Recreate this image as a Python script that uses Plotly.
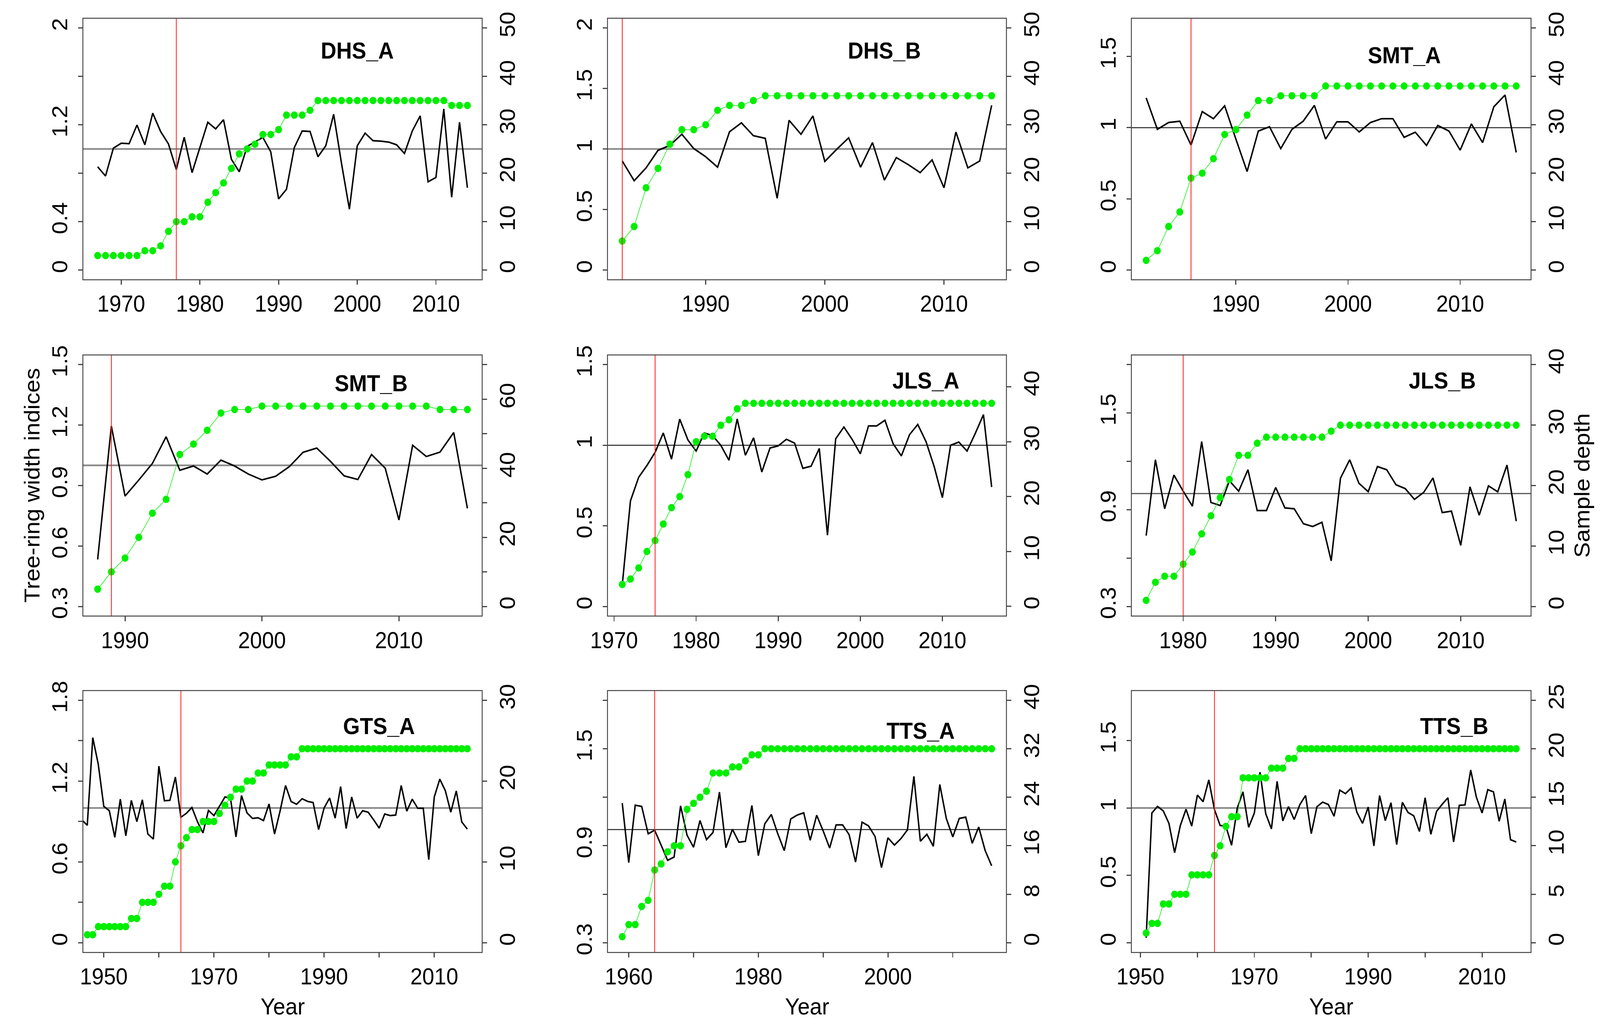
import plotly.graph_objects as go

W, H = 4384, 2625

# ---------------- data ----------------
site_names = ["DHS_A", "DHS_B", "SMT_A", "SMT_B", "JLS_A", "JLS_B", "GTS_A", "TTS_A", "TTS_B"]

# first year of the ring-width index series and of the sample-depth series
rwi_start = [1967, 1983, 1982, 1988, 1971, 1976, 1946, 1959, 1951]
depth_start = [1967, 1983, 1982, 1988, 1971, 1976, 1947, 1959, 1951]

# year marked with the red vertical line
red_line_year = [1977, 1983, 1986, 1989, 1975, 1980, 1964, 1964, 1963]

DHS_A_rwi = [0.853, 0.777, 1.007, 1.048, 1.044, 1.198, 1.035, 1.296, 1.145, 1.042,
             0.830, 1.097, 0.805, 1.012, 1.221, 1.166, 1.242, 0.915, 0.812, 1.021,
             1.057, 1.096, 0.977, 0.588, 0.667, 1.012, 1.149, 1.145, 0.936, 1.027,
             1.287, 0.880, 0.503, 1.027, 1.131, 1.069, 1.065, 1.057, 1.035, 0.963,
             1.149, 1.274, 0.729, 0.765, 1.331, 0.602, 1.221, 0.680]
DHS_A_depth = [3, 3, 3, 3, 3, 3, 4, 4, 5, 8, 10, 10, 11, 11, 14, 16, 18, 21, 24, 25,
               26, 28, 28, 29, 32, 32, 32, 33, 35, 35, 35, 35, 35, 35, 35, 35, 35, 35,
               35, 35, 35, 35, 35, 35, 35, 34, 34, 34]

DHS_B_rwi = [0.901, 0.738, 0.844, 0.989, 1.030, 1.122, 1.004, 0.936, 0.850, 1.142,
             1.216, 1.110, 1.088, 0.593, 1.237, 1.122, 1.273, 0.897, 0.998, 1.092,
             0.850, 1.053, 0.743, 0.929, 0.871, 0.805, 0.910, 0.680, 1.140, 0.844,
             0.901, 1.361]
DHS_B_depth = [6, 9, 17, 21, 26, 29, 29, 30, 33, 34, 34, 35, 36, 36, 36, 36, 36, 36,
               36, 36, 36, 36, 36, 36, 36, 36, 36, 36, 36, 36, 36, 36]

SMT_A_rwi = [1.209, 0.988, 1.036, 1.045, 0.878, 1.113, 1.063, 1.153, 0.920, 0.692,
             0.976, 1.006, 0.853, 0.988, 1.045, 1.156, 0.920, 1.041, 1.041, 0.970,
             1.036, 1.063, 1.063, 0.932, 0.968, 0.875, 1.015, 0.976, 0.842, 1.026,
             0.895, 1.146, 1.229, 0.826]
SMT_A_depth = [2, 4, 9, 12, 19, 20, 23, 28, 29, 32, 35, 35, 36, 36, 36, 36, 38, 38,
               38, 38, 38, 38, 38, 38, 38, 38, 38, 38, 38, 38, 38, 38, 38, 38]

SMT_B_rwi = [0.533, 1.195, 0.848, 0.927, 1.010, 1.142, 0.976, 0.997, 0.957, 1.026,
             0.997, 0.957, 0.928, 0.946, 0.994, 1.065, 1.086, 1.020, 0.948, 0.930,
             1.054, 0.986, 0.729, 1.100, 1.044, 1.066, 1.163, 0.787]
SMT_B_depth = [5, 10, 14, 20, 27, 31, 44, 47, 51, 56, 57, 57, 58, 58, 58, 58, 58, 58,
               58, 58, 58, 58, 58, 58, 58, 57, 57, 57]

JLS_A_rwi = [0.133, 0.655, 0.801, 0.874, 0.956, 1.076, 0.914, 1.162, 1.033, 0.964,
             1.076, 1.060, 1.000, 0.907, 1.163, 0.938, 1.046, 0.834, 0.983, 0.996,
             1.037, 1.013, 0.857, 0.870, 0.980, 0.442, 1.040, 1.113, 1.037, 0.947,
             1.120, 1.120, 1.155, 1.009, 0.934, 1.066, 1.129, 1.023, 0.867, 0.675,
             1.000, 1.020, 0.964, 1.073, 1.190, 0.741]
JLS_A_depth = [4, 5, 7, 10, 12, 15, 18, 20, 24, 30, 31, 31, 33, 34, 36, 37, 37, 37,
               37, 37, 37, 37, 37, 37, 37, 37, 37, 37, 37, 37, 37, 37, 37, 37, 37, 37,
               37, 37, 37, 37, 37, 37, 37, 37, 37, 37]

JLS_B_rwi = [0.739, 1.210, 0.906, 1.115, 1.015, 0.922, 1.323, 0.945, 0.926, 1.079,
             1.015, 1.148, 0.895, 0.895, 1.038, 0.911, 0.906, 0.813, 0.796, 0.822,
             0.583, 1.095, 1.210, 1.064, 1.012, 1.168, 1.148, 1.055, 1.031, 0.964,
             1.008, 1.097, 0.882, 0.891, 0.679, 1.042, 0.866, 1.048, 1.011, 1.177,
             0.829]
JLS_B_depth = [1, 4, 5, 5, 7, 9, 12, 15, 18, 21, 25, 25, 27, 28, 28, 28, 28, 28, 28,
               28, 29, 30, 30, 30, 30, 30, 30, 30, 30, 30, 30, 30, 30, 30, 30, 30, 30,
               30, 30, 30, 30]

GTS_A_rwi = [0.912, 0.872, 1.522, 1.324, 1.012, 0.980, 0.783, 1.066, 0.794, 1.057,
             0.899, 1.061, 0.807, 0.770, 1.311, 1.054, 1.057, 1.230, 0.932, 0.961,
             1.004, 0.899, 0.815, 0.982, 0.944, 1.012, 1.082, 1.074, 0.786, 1.093,
             0.964, 0.923, 0.928, 0.907, 1.030, 0.807, 0.977, 1.167, 1.049, 1.028,
             1.069, 1.049, 1.041, 0.840, 1.001, 1.074, 0.925, 1.159, 0.848, 1.082,
             0.925, 0.980, 0.969, 0.912, 0.851, 0.956, 0.944, 0.948, 1.167, 0.977,
             1.066, 0.998, 0.998, 0.617, 1.082, 1.214, 1.130, 0.969, 1.127, 0.896,
             0.844]
GTS_A_depth = [1, 1, 2, 2, 2, 2, 2, 2, 3, 3, 5, 5, 5, 6, 7, 7, 10, 12, 13, 14, 14,
               15, 15, 15, 16, 17, 18, 19, 19, 20, 20, 21, 21, 22, 22, 22, 22, 23, 23,
               24, 24, 24, 24, 24, 24, 24, 24, 24, 24, 24, 24, 24, 24, 24, 24, 24, 24,
               24, 24, 24, 24, 24, 24, 24, 24, 24, 24, 24, 24, 24]

TTS_A_rwi = [1.164, 0.796, 1.151, 1.143, 0.974, 0.996, 0.904, 0.810, 0.830, 1.147,
             0.965, 0.891, 1.056, 0.938, 0.982, 1.232, 0.888, 1.002, 0.922, 0.927,
             1.149, 0.839, 1.036, 1.093, 0.974, 0.870, 1.066, 1.090, 1.104, 0.934,
             1.089, 0.992, 0.886, 1.029, 1.029, 0.969, 0.799, 1.046, 1.023, 0.958,
             0.765, 0.949, 0.904, 0.944, 0.998, 1.329, 0.928, 0.971, 0.897, 1.279,
             1.069, 0.955, 1.069, 1.077, 0.915, 1.016, 0.870, 0.776]
TTS_A_depth = [1, 3, 3, 6, 7, 12, 13, 15, 16, 16, 22, 23, 24, 25, 28, 28, 28, 29, 29,
               30, 31, 31, 32, 32, 32, 32, 32, 32, 32, 32, 32, 32, 32, 32, 32, 32, 32,
               32, 32, 32, 32, 32, 32, 32, 32, 32, 32, 32, 32, 32, 32, 32, 32, 32, 32,
               32, 32, 32]

TTS_B_rwi = [0.037, 0.963, 1.012, 0.979, 0.886, 0.668, 0.870, 0.991, 0.866, 1.096,
             1.047, 1.209, 0.988, 0.870, 0.866, 0.724, 0.999, 1.120, 0.857, 0.963,
             1.266, 0.958, 0.845, 1.198, 0.905, 1.010, 0.915, 1.026, 1.093, 0.810,
             1.010, 1.044, 1.026, 0.939, 1.133, 1.107, 1.148, 0.970, 0.886, 1.007,
             0.719, 1.093, 0.907, 1.039, 0.729, 1.042, 0.967, 0.942, 0.826, 1.076,
             0.805, 0.975, 1.028, 1.076, 0.748, 1.020, 1.023, 1.282, 1.080, 0.963,
             1.136, 1.120, 0.902, 1.067, 0.765, 0.748]
TTS_B_depth = [1, 2, 2, 4, 4, 5, 5, 5, 7, 7, 7, 7, 9, 10, 12, 13, 13, 17, 17, 17, 17,
               17, 18, 18, 18, 19, 19, 20, 20, 20, 20, 20, 20, 20, 20, 20, 20, 20, 20,
               20, 20, 20, 20, 20, 20, 20, 20, 20, 20, 20, 20, 20, 20, 20, 20, 20, 20,
               20, 20, 20, 20, 20, 20, 20, 20, 20]

rwi_series = [DHS_A_rwi, DHS_B_rwi, SMT_A_rwi, SMT_B_rwi, JLS_A_rwi, JLS_B_rwi,
              GTS_A_rwi, TTS_A_rwi, TTS_B_rwi]
depth_series = [DHS_A_depth, DHS_B_depth, SMT_A_depth, SMT_B_depth, JLS_A_depth,
                JLS_B_depth, GTS_A_depth, TTS_A_depth, TTS_B_depth]

# ---------------- axis settings ----------------
x_ranges = [(1965.12, 2015.88), (1981.76, 2015.24), (1980.68, 2016.32),
            (1986.92, 2016.08), (1969.2, 2017.8), (1974.4, 2017.6),
            (1946.2, 2018.7), (1956.72, 2018.28), (1948.4, 2018.6)]
x_ticks = [[1970, 1980, 1990, 2000, 2010], [1990, 2000, 2010], [1990, 2000, 2010],
           [1990, 2000, 2010], [1970, 1980, 1990, 2000, 2010], [1980, 1990, 2000, 2010],
           [1950, 1960, 1970, 1980, 1990, 2000, 2010], [1960, 1970, 1980, 1990, 2000, 2010],
           [1950, 1960, 1970, 1980, 1990, 2000, 2010]]
x_ticklabels = [["1970", "1980", "1990", "2000", "2010"], ["1990", "2000", "2010"],
                ["1990", "2000", "2010"], ["1990", "2000", "2010"],
                ["1970", "1980", "1990", "2000", "2010"], ["1980", "1990", "2000", "2010"],
                ["1950", "", "1970", "", "1990", "", "2010"],
                ["1960", "", "1980", "", "2000", ""],
                ["1950", "", "1970", "", "1990", "", "2010"]]

yl_ranges = [(-0.08, 2.08), (-0.08, 2.08), (-0.068, 1.768), (0.252, 1.548),
             (-0.06, 1.56), (0.24, 1.86), (-0.072, 1.872), (0.24, 1.86), (-0.072, 1.872)]
yl_ticks = [[0, 0.4, 0.8, 1.2, 1.6, 2], [0, 0.5, 1, 1.5, 2], [0, 0.5, 1, 1.5],
            [0.3, 0.6, 0.9, 1.2, 1.5], [0, 0.5, 1, 1.5], [0.3, 0.6, 0.9, 1.2, 1.5, 1.8],
            [0, 0.3, 0.6, 0.9, 1.2, 1.5, 1.8], [0.3, 0.6, 0.9, 1.2, 1.5, 1.8],
            [0, 0.5, 1, 1.5]]
yl_ticklabels = [["0", "0.4", "", "1.2", "", "2"], ["0", "0.5", "1", "1.5", "2"],
                 ["0", "0.5", "1", "1.5"], ["0.3", "0.6", "0.9", "1.2", "1.5"],
                 ["0", "0.5", "1", "1.5"], ["0.3", "", "0.9", "", "1.5", ""],
                 ["0", "", "0.6", "", "1.2", "", "1.8"], ["0.3", "", "0.9", "", "1.5", ""],
                 ["0", "0.5", "1", "1.5"]]

yr_ranges = [(-2, 52), (-2, 52), (-2, 52), (-2.8, 72.8), (-1.77, 45.8), (-1.6, 41.6),
             (-1.2, 31.2), (-1.6, 41.6), (-1, 26)]
yr_ticks = [[0, 10, 20, 30, 40, 50], [0, 10, 20, 30, 40, 50], [0, 10, 20, 30, 40, 50],
            [0, 10, 20, 30, 40, 50, 60, 70], [0, 10, 20, 30, 40], [0, 10, 20, 30, 40],
            [0, 10, 20, 30], [0, 8, 16, 24, 32, 40], [0, 5, 10, 15, 20, 25]]
yr_ticklabels = [["0", "10", "20", "30", "40", "50"], ["0", "10", "20", "30", "40", "50"],
                 ["0", "10", "20", "30", "40", "50"],
                 ["0", "", "20", "", "40", "", "60", ""], ["0", "10", "20", "30", "40"],
                 ["0", "10", "20", "30", "40"], ["0", "10", "20", "30"],
                 ["0", "8", "16", "24", "32", "40"], ["0", "5", "10", "15", "20", "25"]]

# ---------------- layout geometry (pixels) and styles ----------------
col_px = [(182, 1288), (1635, 2740), (3086, 4193)]
row_px = [(22, 700), (895, 1572), (1765, 2444)]
# panel title position inside each plot box (fraction of width, fraction from top)
title_pos = [(0.687, 0.125), (0.694, 0.125), (0.683, 0.142), (0.722, 0.109),
             (0.798, 0.098), (0.778, 0.098), (0.742, 0.137), (0.785, 0.155),
             (0.808, 0.137)]
ref_line_color = ["#8c8c8c", "#8c8c8c", "#222222", "#8c8c8c", "#222222", "#555555",
                  "#8c8c8c", "#222222", "#8c8c8c"]
ref_line_width = [4.5, 4.5, 2.5, 4.5, 2.5, 3, 4.5, 2.5, 4.5]

FONT = "Liberation Sans, Arial, sans-serif"
TICK_SIZE = 59
GREEN = "#00ee00"
AXCOL = "#444444"

fig = go.Figure()
layout = dict(width=W, height=H, margin=dict(l=0, r=0, t=0, b=0),
              paper_bgcolor="white", plot_bgcolor="white", showlegend=False,
              font=dict(family=FONT, color="black"))
shapes = []
annotations = []

for i in range(9):
    r, c = divmod(i, 3)
    xn = i + 1
    yl = 2 * i + 1
    yr = 2 * i + 2
    xref = "x" if xn == 1 else f"x{xn}"
    ylref = "y" if yl == 1 else f"y{yl}"
    yrref = f"y{yr}"
    xkey = "xaxis" if xn == 1 else f"xaxis{xn}"
    ylkey = "yaxis" if yl == 1 else f"yaxis{yl}"
    yrkey = f"yaxis{yr}"

    x0, x1 = col_px[c]
    y0, y1 = row_px[r]
    xdom = [x0 / W, x1 / W]
    ydom = [1 - y1 / H, 1 - y0 / H]

    common = dict(showgrid=False, zeroline=False, showline=False, ticks="outside",
                  ticklen=12, tickwidth=3, tickcolor=AXCOL,
                  tickfont=dict(family=FONT, size=TICK_SIZE, color="black"),
                  tickmode="array")
    layout[xkey] = dict(domain=xdom, range=list(x_ranges[i]), anchor=ylref,
                        tickvals=x_ticks[i], ticktext=x_ticklabels[i],
                        ticklabelstandoff=-2, **common)
    layout[ylkey] = dict(domain=ydom, range=list(yl_ranges[i]), anchor=xref,
                         side="left", tickangle=-90, tickvals=yl_ticks[i],
                         ticktext=yl_ticklabels[i], ticklabelstandoff=6, **common)
    layout[yrkey] = dict(domain=ydom, range=list(yr_ranges[i]), anchor=xref,
                         overlaying=ylref, side="right", tickangle=-90,
                         tickvals=yr_ticks[i], ticktext=yr_ticklabels[i],
                         ticklabelstandoff=6, **common)

    years_rwi = list(range(rwi_start[i], rwi_start[i] + len(rwi_series[i])))
    years_dep = list(range(depth_start[i], depth_start[i] + len(depth_series[i])))

    fig.add_trace(go.Scatter(x=years_rwi, y=rwi_series[i], xaxis=xref, yaxis=ylref,
                             mode="lines", line=dict(color="black", width=4),
                             hoverinfo="skip"))
    fig.add_trace(go.Scatter(x=years_dep, y=depth_series[i], xaxis=xref, yaxis=yrref,
                             mode="lines+markers",
                             line=dict(color=GREEN, width=1.5),
                             marker=dict(size=19, color=GREEN, line=dict(width=0)),
                             hoverinfo="skip"))

    # reference line at index = 1
    shapes.append(dict(type="line", xref=f"{xref} domain", yref=ylref, x0=0, x1=1,
                       y0=1, y1=1,
                       line=dict(color=ref_line_color[i], width=ref_line_width[i]),
                       layer="below"))
    # red vertical line
    shapes.append(dict(type="line", xref=xref, yref=f"{ylref} domain",
                       x0=red_line_year[i], x1=red_line_year[i], y0=0, y1=1,
                       line=dict(color="#ff2020", width=2.2), layer="above"))
    # plot box
    shapes.append(dict(type="rect", xref=f"{xref} domain", yref=f"{ylref} domain",
                       x0=0, x1=1, y0=0, y1=1, line=dict(color=AXCOL, width=2.5),
                       fillcolor="rgba(0,0,0,0)", layer="above"))
    # panel title
    fx, fy = title_pos[i]
    annotations.append(dict(text=site_names[i], xref=f"{xref} domain",
                            yref=f"{ylref} domain", x=fx, y=1 - fy, xanchor="center",
                            yanchor="middle", showarrow=False,
                            font=dict(family=FONT, size=59, color="black", weight="bold")))

    if r == 2:
        annotations.append(dict(text="Year", xref="paper", yref="paper",
                                x=(x0 + x1) / 2 / W, y=1 - 2584 / H, xanchor="center",
                                yanchor="middle", showarrow=False,
                                font=dict(family=FONT, size=60, color="black")))

annotations.append(dict(text="Tree-ring width indices", xref="paper", yref="paper",
                        x=42 / W, y=1 - 1233 / H, xanchor="center", yanchor="middle",
                        textangle=-90, showarrow=False,
                        font=dict(family=FONT, size=60, color="black")))
annotations.append(dict(text="Sample depth", xref="paper", yref="paper",
                        x=4334 / W, y=1 - 1234 / H, xanchor="center", yanchor="middle",
                        textangle=-90, showarrow=False,
                        font=dict(family=FONT, size=60, color="black")))

layout["shapes"] = shapes
layout["annotations"] = annotations
fig.update_layout(**layout)

# make the page margin-free and stretch the figure to exactly fill the browser window
fit_js = """
(function(){
  var gd = document.getElementById('{plot_id}');
  var de = document.documentElement, b = document.body;
  de.style.margin = '0'; de.style.padding = '0'; de.style.overflow = 'hidden';
  b.style.margin = '0'; b.style.padding = '0'; b.style.overflow = 'hidden';
  var sx = window.innerWidth / 4384, sy = window.innerHeight / 2625;
  if (sx > 0 && sy > 0 && (Math.abs(sx - 1) > 0.002 || Math.abs(sy - 1) > 0.002)) {
    gd.style.transformOrigin = '0 0';
    gd.style.transform = 'scale(' + sx + ',' + sy + ')';
  }
})();
"""
fig.write_html("out.html", post_script=fit_js, config={"displayModeBar": False})
